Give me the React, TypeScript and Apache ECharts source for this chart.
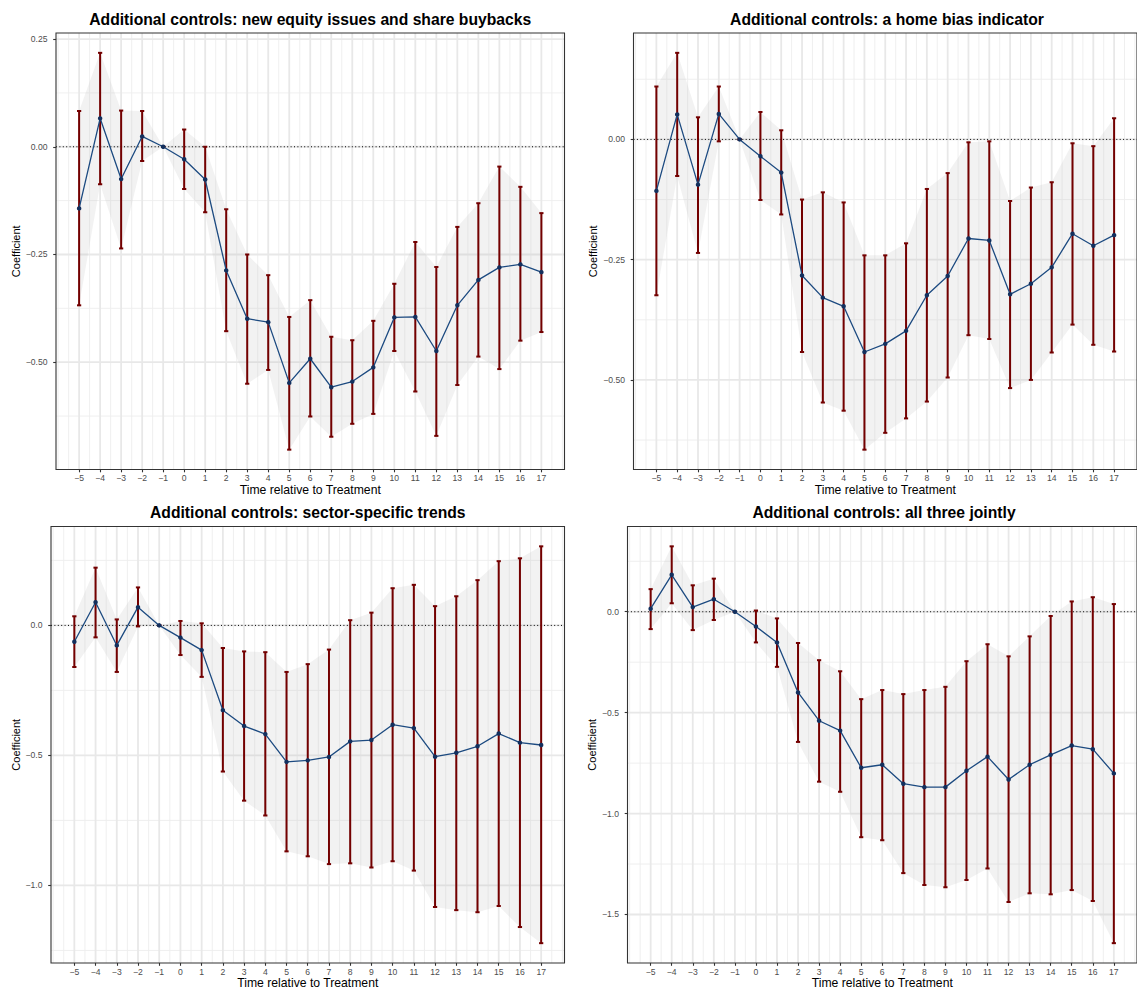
import React, { useEffect, useRef } from "react";
import * as echarts from "echarts";

// Event-time periods relative to treatment
const periods = [-5, -4, -3, -2, -1, 0, 1, 2, 3, 4, 5, 6, 7, 8, 9, 10, 11, 12, 13, 14, 15, 16, 17];

// Panel 1: new equity issues and share buybacks
const titleEquity = "Additional controls: new equity issues and share buybacks";
const coefEquity = [-0.143, 0.066, -0.075, 0.024, 0, -0.029, -0.076, -0.287, -0.399, -0.407, -0.548, -0.492, -0.558, -0.545, -0.512, -0.396, -0.395, -0.474, -0.368, -0.309, -0.280, -0.273, -0.291];
const loEquity = [-0.368, -0.087, -0.236, -0.033, 0, -0.098, -0.152, -0.428, -0.550, -0.518, -0.703, -0.626, -0.673, -0.643, -0.620, -0.474, -0.568, -0.671, -0.553, -0.487, -0.516, -0.450, -0.430];
const hiEquity = [0.083, 0.218, 0.084, 0.083, 0, 0.040, 0.000, -0.145, -0.250, -0.298, -0.395, -0.356, -0.441, -0.449, -0.404, -0.318, -0.221, -0.279, -0.186, -0.131, -0.046, -0.093, -0.154];
const yTicksEquity = [-0.5, -0.25, 0, 0.25];

// Panel 2: home bias indicator
const titleHome = "Additional controls: a home bias indicator";
const coefHome = [-0.107, 0.052, -0.094, 0.053, 0, -0.035, -0.069, -0.283, -0.329, -0.347, -0.442, -0.425, -0.398, -0.324, -0.284, -0.206, -0.210, -0.322, -0.300, -0.266, -0.196, -0.221, -0.199];
const loHome = [-0.324, -0.076, -0.236, -0.004, 0, -0.126, -0.156, -0.442, -0.547, -0.564, -0.645, -0.610, -0.580, -0.545, -0.495, -0.407, -0.415, -0.517, -0.500, -0.443, -0.385, -0.427, -0.441];
const hiHome = [0.110, 0.180, 0.046, 0.110, 0, 0.057, 0.019, -0.125, -0.110, -0.131, -0.241, -0.241, -0.216, -0.103, -0.070, -0.006, -0.004, -0.128, -0.100, -0.089, -0.008, -0.014, 0.044];
const yTicksHome = [-0.5, -0.25, 0];

// Panel 3: sector-specific trends
const titleSector = "Additional controls: sector-specific trends";
const coefSector = [-0.063, 0.089, -0.077, 0.070, 0, -0.047, -0.095, -0.326, -0.387, -0.418, -0.525, -0.519, -0.506, -0.446, -0.441, -0.382, -0.395, -0.505, -0.490, -0.465, -0.416, -0.451, -0.460];
const loSector = [-0.160, -0.046, -0.179, -0.004, 0, -0.114, -0.198, -0.562, -0.674, -0.731, -0.869, -0.888, -0.918, -0.915, -0.931, -0.907, -0.943, -1.083, -1.095, -1.103, -1.079, -1.160, -1.222];
const hiSector = [0.035, 0.222, 0.023, 0.146, 0, 0.017, 0.008, -0.087, -0.100, -0.103, -0.179, -0.149, -0.093, 0.020, 0.049, 0.143, 0.156, 0.074, 0.112, 0.174, 0.247, 0.258, 0.304];
const yTicksSector = [-1, -0.5, 0];

// Panel 4: all three jointly
const titleJoint = "Additional controls: all three jointly";
const coefJoint = [0.015, 0.183, 0.023, 0.062, 0, -0.073, -0.152, -0.400, -0.540, -0.589, -0.773, -0.758, -0.852, -0.869, -0.869, -0.788, -0.718, -0.831, -0.758, -0.709, -0.663, -0.681, -0.801];
const loJoint = [-0.086, 0.042, -0.091, -0.041, 0, -0.152, -0.273, -0.645, -0.842, -0.892, -1.117, -1.132, -1.295, -1.354, -1.365, -1.329, -1.272, -1.438, -1.395, -1.400, -1.379, -1.433, -1.642];
const hiJoint = [0.112, 0.324, 0.131, 0.164, 0, 0.006, -0.033, -0.155, -0.240, -0.295, -0.433, -0.388, -0.408, -0.388, -0.372, -0.245, -0.161, -0.221, -0.122, -0.021, 0.051, 0.072, 0.038];
const yTicksJoint = [-1.5, -1, -0.5, 0];

const xTitle = "Time relative to Treatment";
const yTitle = "Coefficient";

const FONT = '"Liberation Sans", Arial, Helvetica, sans-serif';
const GRID_MAJOR = "#E8E8E8";
const GRID_MINOR = "#EDEDED";
const BORDER = "#333333";
const BAR_COLOR = "#730000";
const LINE_COLOR = "#1C4A80";
const POINT_COLOR = "#13305E";
const RIBBON_FILL = "rgba(190,190,190,0.2)";

// ggplot-style 5% expansion of a continuous range
function expandRange(lo: number, hi: number): [number, number] {
  const r = hi - lo;
  return [lo - 0.05 * r, hi + 0.05 * r];
}

// minor breaks halfway between major breaks, extended one step beyond the ends
function minorBreaks(major: number[], limits: [number, number]): number[] {
  const step = major[1] - major[0];
  const b = [major[0] - step, ...major, major[major.length - 1] + step];
  const out: number[] = [];
  for (let i = 0; i < b.length - 1; i++) {
    out.push(b[i] + step / 2);
  }
  b.forEach((v) => out.push(v));
  return out.filter((v) => v >= limits[0] && v <= limits[1] && !major.includes(v));
}

const signed = (v: number, digits: number) =>
  (v < 0 ? "\u2212" : "") + Math.abs(v).toFixed(digits);

type Panel = {
  title: string;
  coef: number[];
  lo: number[];
  hi: number[];
  yTicks: number[];
  digits: number;
  box: { left: number; top: number; width: number; height: number };
  yNameGap: number;
};

const panels: Panel[] = [
  { title: titleEquity, coef: coefEquity, lo: loEquity, hi: hiEquity, yTicks: yTicksEquity, digits: 2,
    box: { left: 56, top: 33, width: 508.5, height: 436.5 }, yNameGap: 35 },
  { title: titleHome, coef: coefHome, lo: loHome, hi: hiHome, yTicks: yTicksHome, digits: 2,
    box: { left: 633.5, top: 33, width: 507, height: 436.5 }, yNameGap: 35 },
  { title: titleSector, coef: coefSector, lo: loSector, hi: hiSector, yTicks: yTicksSector, digits: 1,
    box: { left: 51, top: 526.5, width: 513.5, height: 437 }, yNameGap: 30 },
  { title: titleJoint, coef: coefJoint, lo: loJoint, hi: hiJoint, yTicks: yTicksJoint, digits: 1,
    box: { left: 627.5, top: 526.5, width: 513, height: 437 }, yNameGap: 30 },
];

function buildOption() {
  const xLim = expandRange(Math.min(...periods), Math.max(...periods));
  const xMinor = minorBreaks(periods, xLim);

  const grid: any[] = [];
  const xAxis: any[] = [];
  const yAxis: any[] = [];
  const series: any[] = [];
  const graphic: any[] = [];

  panels.forEach((p, i) => {
    const yLim = expandRange(Math.min(...p.lo, ...p.coef), Math.max(...p.hi, ...p.coef));
    const yMinor = minorBreaks(p.yTicks, yLim);

    grid.push({ ...p.box, show: false, containLabel: false });

    xAxis.push({
      type: "value",
      gridIndex: i,
      min: xLim[0],
      max: xLim[1],
      axisLine: { show: false, onZero: false },
      axisTick: { show: true, customValues: periods, length: 2.8, lineStyle: { color: BORDER, width: 1.1 } },
      axisLabel: {
        customValues: periods,
        formatter: (v: number) => signed(v, 0),
        fontSize: 8.6,
        color: "#4D4D4D",
        fontFamily: FONT,
        margin: 4,
      },
      splitLine: { show: false },
      name: xTitle,
      nameLocation: "middle",
      nameGap: 14,
      nameTextStyle: { fontSize: 12.2, color: "#000", fontFamily: FONT },
    });

    yAxis.push({
      type: "value",
      gridIndex: i,
      min: yLim[0],
      max: yLim[1],
      axisLine: { show: false, onZero: false },
      axisTick: { show: true, customValues: p.yTicks, length: 2.8, lineStyle: { color: BORDER, width: 1.1 } },
      axisLabel: {
        customValues: p.yTicks,
        formatter: (v: number) => signed(v, p.digits),
        fontSize: 8.6,
        color: "#4D4D4D",
        fontFamily: FONT,
        margin: 8.5,
      },
      splitLine: { show: false },
      name: yTitle,
      nameLocation: "middle",
      nameGap: p.yNameGap,
      nameTextStyle: { fontSize: 11, color: "#000", fontFamily: FONT },
    });

    // panel background grid
    series.push({
      type: "custom",
      xAxisIndex: i,
      yAxisIndex: i,
      silent: true,
      z: 1,
      data: [[0, 0]],
      renderItem: (params: any, api: any) => {
        const cs = params.coordSys;
        const children: any[] = [];
        const vLine = (v: number, w: number, c: string) => {
          const x = api.coord([v, 0])[0];
          children.push({ type: "line", shape: { x1: x, y1: cs.y, x2: x, y2: cs.y + cs.height }, style: { stroke: c, lineWidth: w } });
        };
        const hLine = (v: number, w: number, c: string) => {
          const y = api.coord([0, v])[1];
          children.push({ type: "line", shape: { x1: cs.x, y1: y, x2: cs.x + cs.width, y2: y }, style: { stroke: c, lineWidth: w } });
        };
        xMinor.forEach((v) => vLine(v, 0.9, GRID_MINOR));
        yMinor.forEach((v) => hLine(v, 0.9, GRID_MINOR));
        periods.forEach((v) => vLine(v, 1.8, GRID_MAJOR));
        p.yTicks.forEach((v) => hLine(v, 1.8, GRID_MAJOR));
        return { type: "group", children };
      },
    });

    // confidence ribbon
    series.push({
      type: "custom",
      xAxisIndex: i,
      yAxisIndex: i,
      silent: true,
      z: 2,
      data: [[0, 0]],
      renderItem: (_params: any, api: any) => {
        const upper = periods.map((x, k) => api.coord([x, p.hi[k]]));
        const lower = periods.map((x, k) => api.coord([x, p.lo[k]])).reverse();
        return { type: "polygon", shape: { points: [...upper, ...lower] }, style: { fill: RIBBON_FILL } };
      },
    });

    // dotted reference line at zero
    series.push({
      type: "custom",
      xAxisIndex: i,
      yAxisIndex: i,
      silent: true,
      z: 3,
      data: [[0, 0]],
      renderItem: (params: any, api: any) => {
        const cs = params.coordSys;
        const y = api.coord([0, 0])[1];
        return {
          type: "line",
          shape: { x1: cs.x, y1: y, x2: cs.x + cs.width, y2: y },
          style: { stroke: "#000", lineWidth: 1, lineDash: [1, 2.4] },
        };
      },
    });

    // error bars
    series.push({
      type: "custom",
      xAxisIndex: i,
      yAxisIndex: i,
      silent: true,
      z: 4,
      dimensions: ["t", "lo", "hi"],
      encode: { x: 0, y: [1, 2] },
      data: periods.map((x, k) => [x, p.lo[k], p.hi[k]]),
      renderItem: (_params: any, api: any) => {
        const x = api.value(0);
        const top = api.coord([x, api.value(2)]);
        const bot = api.coord([x, api.value(1)]);
        const l = api.coord([x - 0.1, 0])[0];
        const r = api.coord([x + 0.1, 0])[0];
        const style = { stroke: BAR_COLOR, lineWidth: 2 };
        return {
          type: "group",
          children: [
            { type: "line", shape: { x1: top[0], y1: top[1], x2: bot[0], y2: bot[1] }, style },
            { type: "line", shape: { x1: l, y1: top[1], x2: r, y2: top[1] }, style },
            { type: "line", shape: { x1: l, y1: bot[1], x2: r, y2: bot[1] }, style },
          ],
        };
      },
    });

    // point estimates
    series.push({
      type: "line",
      xAxisIndex: i,
      yAxisIndex: i,
      silent: true,
      z: 5,
      data: periods.map((x, k) => [x, p.coef[k]]),
      symbol: "circle",
      symbolSize: 4.5,
      showSymbol: true,
      itemStyle: { color: POINT_COLOR },
      lineStyle: { color: LINE_COLOR, width: 1.3 },
    });

    // panel border
    series.push({
      type: "custom",
      xAxisIndex: i,
      yAxisIndex: i,
      silent: true,
      z: 10,
      data: [[0, 0]],
      renderItem: (params: any) => {
        const cs = params.coordSys;
        return {
          type: "rect",
          shape: { x: cs.x, y: cs.y, width: cs.width, height: cs.height },
          style: { fill: "none", stroke: BORDER, lineWidth: 1.1 },
        };
      },
    });

    graphic.push({
      type: "text",
      x: p.box.left + p.box.width / 2,
      y: p.box.top - 14,
      style: {
        text: p.title,
        align: "center",
        verticalAlign: "middle",
        fontSize: 15.7,
        fontWeight: "bold",
        fontFamily: FONT,
        fill: "#000",
      },
    });
  });

  return {
    animation: false,
    backgroundColor: "#ffffff",
    grid,
    xAxis,
    yAxis,
    series,
    graphic,
  };
}

export default function App() {
  const ref = useRef<HTMLDivElement>(null);
  useEffect(() => {
    document.body.style.margin = "0";
    const chart = echarts.init(ref.current!, null, { renderer: "svg" });
    chart.setOption(buildOption() as any);
    return () => chart.dispose();
  }, []);
  return <div ref={ref} style={{ width: 1137, height: 990 }} />;
}
